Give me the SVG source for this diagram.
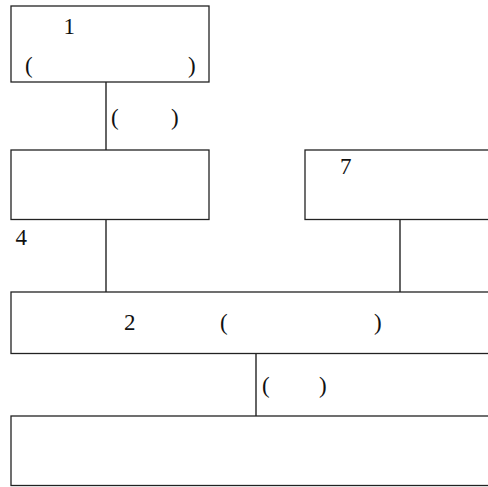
<svg xmlns="http://www.w3.org/2000/svg" width="488" height="487" viewBox="0 0 488 487">
<style>
.box{fill:#fff;stroke:#222;stroke-width:1.3}
.ln{stroke:#111;stroke-width:1.3;fill:none}
text{font-family:"Liberation Serif","Times New Roman",serif;font-size:23px;fill:#111}
</style>
<rect width="488" height="487" fill="#fff"/>
<g id="connectors">
<line class="ln" x1="106" y1="82" x2="106" y2="150"/>
<line class="ln" x1="106" y1="219.5" x2="106" y2="292"/>
<line class="ln" x1="400" y1="219.5" x2="400" y2="292"/>
<line class="ln" x1="256" y1="353.5" x2="256" y2="416"/>
<text><tspan x="111" y="125">(</tspan><tspan x="171" y="125">)</tspan></text>
<text><tspan x="262" y="392.5">(</tspan><tspan x="319" y="392.5">)</tspan></text>
</g>
<g id="node1">
<rect class="box" x="11" y="6" width="198" height="76"/>
<text x="63.5" y="34">1</text>
<text><tspan x="25" y="72.5">(</tspan><tspan x="188" y="72.5">)</tspan></text>
</g>
<g id="node4">
<rect class="box" x="11" y="150" width="198" height="69.5"/>
<text x="15.5" y="245">4</text>
</g>
<g id="node7">
<rect class="box" x="305" y="150" width="220" height="69.5"/>
<text x="340" y="174">7</text>
</g>
<g id="node2">
<rect class="box" x="11" y="292" width="520" height="61.5"/>
<text x="124" y="330">2</text>
<text><tspan x="220" y="330">(</tspan><tspan x="374" y="330">)</tspan></text>
</g>
<g id="node-bottom">
<rect class="box" x="11" y="416" width="520" height="69.5"/>
</g>
</svg>
